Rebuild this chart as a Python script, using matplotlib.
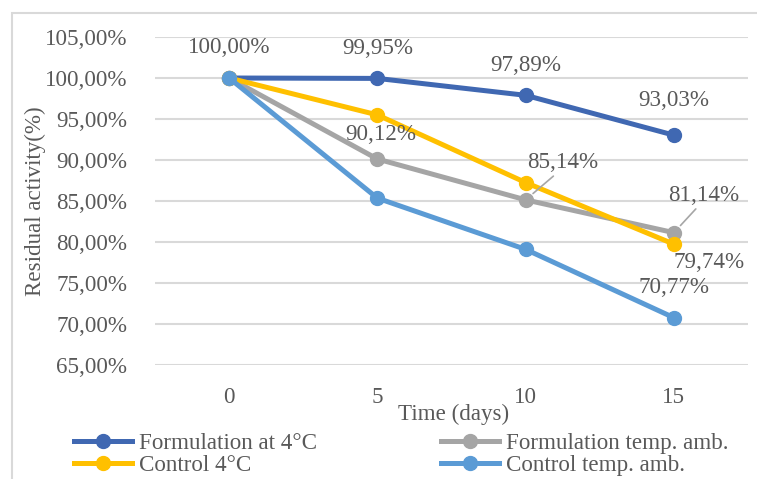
import matplotlib
matplotlib.use('Agg')
import matplotlib.pyplot as plt
from matplotlib.patches import Rectangle
from matplotlib.lines import Line2D

# data
days = ['0', '5', '10', '15']
form_4c = [100.00, 99.95, 97.89, 93.03]
form_amb = [100.00, 90.12, 85.14, 81.14]
ctrl_4c = [100.00, 95.5, 87.25, 79.74]
ctrl_amb = [100.00, 85.35, 79.1, 70.77]
yticks = [65, 70, 75, 80, 85, 90, 95, 100, 105]

names = ['Formulation at 4°C', 'Formulation temp. amb.',
         'Control 4°C', 'Control temp. amb.']
colors = ['#4068B2', '#A5A5A5', '#FFC000', '#5B9BD5']

TXT = '#595959'
FS = 16.6
plt.rcParams['font.family'] = ['Liberation Serif', 'DejaVu Serif']
plt.rcParams['font.size'] = FS

W, H = 757, 479
fig = plt.figure(figsize=(W / 100, H / 100), dpi=100)
ax = fig.add_axes([155 / W, 1 - 365 / H, (748 - 155) / W, (365 - 37) / H])

# chart border (cut off at right/bottom in the reference)
fig.patches.append(Rectangle((12 / W, -0.2), 1.2, 1 - 13 / H + 0.2,
                             transform=fig.transFigure, fill=False,
                             edgecolor='#D9D9D9', linewidth=1.5))

x = list(range(len(days)))
series = [form_4c, form_amb, ctrl_4c, ctrl_amb]
for vals, c, n in zip(series, colors, names):
    ax.plot(x, vals, color=c, lw=3.6, marker='o', ms=10, label=n,
            solid_capstyle='round', zorder=3)

ax.set_xlim(-0.5, 3.5)
ax.set_ylim(65, 105)
ax.set_yticks(yticks)
ax.set_yticklabels([f'{v:.2f}%'.replace('.', ',') for v in yticks])
ax.set_xticks(x)
ax.set_xticklabels(days)
ax.grid(axis='y', color='#D9D9D9', lw=1.5)
ax.set_axisbelow(True)
for s in ax.spines.values():
    s.set_visible(False)
ax.tick_params(length=0, colors=TXT, labelsize=FS)
ax.tick_params(axis='y', pad=20)
ax.tick_params(axis='x', pad=16)


def lab(xi, vals, i, dx, dy, leader=False):
    txt = f'{vals[i]:.2f}%'.replace('.', ',')
    kw = {}
    if leader:
        kw['arrowprops'] = dict(arrowstyle='-', color='#A6A6A6', lw=1.2,
                                relpos=(0.45, 0.1), shrinkA=0, shrinkB=7)
    ax.annotate(txt, (xi, vals[i]), xytext=(dx, dy),
                textcoords='offset pixels', ha='center', va='center',
                color=TXT, fontsize=FS, zorder=5, **kw)


lab(0, form_4c, 0, 0, 30)
lab(1, form_4c, 1, 0, 30)
lab(2, form_4c, 2, 0, 30)
lab(3, form_4c, 3, 0, 35)
lab(1, form_amb, 1, 3, 25)
lab(2, form_amb, 2, 37, 37, leader=True)
lab(3, form_amb, 3, 30, 37, leader=True)
lab(3, ctrl_4c, 3, 35, -18)
lab(3, ctrl_amb, 3, 0, 30)

fig.text(35 / W, 1 - 201 / H, 'Residual activity(%)', rotation=90,
         ha='center', va='center', color=TXT, fontsize=FS)
fig.text(454 / W, 1 - 414 / H, 'Time (days)', ha='center', va='center',
         color=TXT, fontsize=FS)

handles = [Line2D([], [], color=c, lw=3.6, marker='o', ms=10) for c in colors]
for idx, x0 in [((0, 2), 74), ((1, 3), 441)]:
    fig.legend([handles[i] for i in idx], [names[i] for i in idx],
               loc='upper left', bbox_to_anchor=(x0 / W, 1 - 433 / H),
               frameon=False, handlelength=2.5, handletextpad=0.3,
               labelspacing=0.02, borderaxespad=0, borderpad=0,
               labelcolor=TXT, fontsize=FS)

fig.savefig('out.png', dpi=100)
